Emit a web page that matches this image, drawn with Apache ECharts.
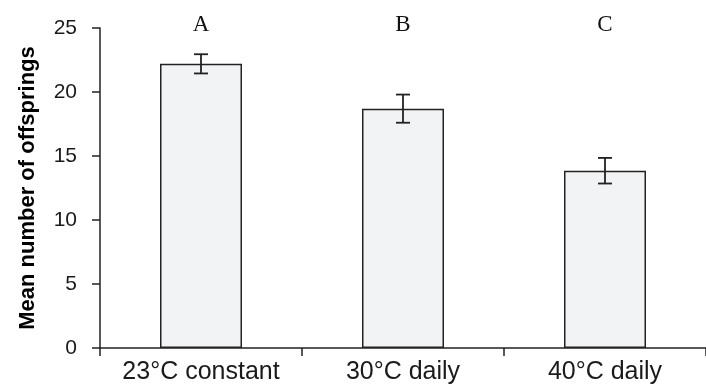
<!DOCTYPE html>
<html>
<head>
<meta charset="utf-8">
<script src="https://cdn.jsdelivr.net/npm/echarts@6/dist/echarts.min.js"></script>
<style>html,body{margin:0;padding:0;background:#fff}#c{width:706px;height:392px}</style>
</head>
<body>
<div id="c"></div>
<script>
const categories = ['23°C constant', '30°C daily', '40°C daily'];
const means = [22.2, 18.7, 13.85];
const errors = [0.75, 1.1, 1.0];
const letters = ['A', 'B', 'C'];
const yTicks = { min: 0, max: 25, interval: 5 };
const yName = 'Mean number of offsprings';

const errData = means.map((m, i) => [i, m + errors[i], m - errors[i]]);
const ink = '#222';

const chart = echarts.init(document.getElementById('c'), null, { renderer: 'canvas' });
chart.setOption({
  animation: false,
  backgroundColor: '#fff',
  grid: { left: 100, right: -3, top: 28, bottom: 44, containLabel: false },
  xAxis: [{
    type: 'category',
    data: categories,
    boundaryGap: true,
    axisLine: { show: true, lineStyle: { color: ink, width: 1.5 } },
    axisTick: { show: true, interval: 0, length: 8, lineStyle: { color: ink, width: 1.5 } },
    axisLabel: { interval: 0, hideOverlap: false, color: '#1a1a1a', fontSize: 25, fontFamily: 'Liberation Sans, Arial', margin: 12 },
    splitLine: { show: false }
  }, {
    type: 'category',
    data: letters,
    position: 'top',
    axisLine: { show: false },
    axisTick: { show: false },
    axisLabel: { interval: 0, color: '#111', fontSize: 23, fontFamily: 'Liberation Serif, Times New Roman', margin: -8 },
    splitLine: { show: false }
  }],
  yAxis: {
    type: 'value',
    min: yTicks.min, max: yTicks.max, interval: yTicks.interval,
    name: yName,
    nameLocation: 'middle',
    nameGap: 61,
    nameTextStyle: { color: '#000', fontSize: 22, fontWeight: 'bold', fontFamily: 'Liberation Sans, Arial' },
    axisLine: { show: true, lineStyle: { color: ink, width: 1.5 } },
    axisTick: { show: true, length: 8, lineStyle: { color: ink, width: 1.5 } },
    axisLabel: { color: '#1a1a1a', fontSize: 21, fontFamily: 'Liberation Sans, Arial', margin: 23 },
    splitLine: { show: false }
  },
  series: [{
    type: 'bar',
    data: means,
    barWidth: 82,
    itemStyle: { color: '#f2f3f5', borderColor: ink, borderWidth: 1.5 },
    z: 2
  }, {
    type: 'custom',
    data: errData,
    z: 3,
    renderItem: function (params, api) {
      const x = api.value(0);
      const hi = api.coord([x, api.value(1)]);
      const lo = api.coord([x, api.value(2)]);
      const h = 7;
      const st = { stroke: ink, lineWidth: 1.8 };
      return {
        type: 'group',
        children: [
          { type: 'line', shape: { x1: hi[0], y1: hi[1], x2: lo[0], y2: lo[1] }, style: st },
          { type: 'line', shape: { x1: hi[0] - h, y1: hi[1], x2: hi[0] + h, y2: hi[1] }, style: st },
          { type: 'line', shape: { x1: lo[0] - h, y1: lo[1], x2: lo[0] + h, y2: lo[1] }, style: st }
        ]
      };
    }
  }]
});
</script>
</body>
</html>
